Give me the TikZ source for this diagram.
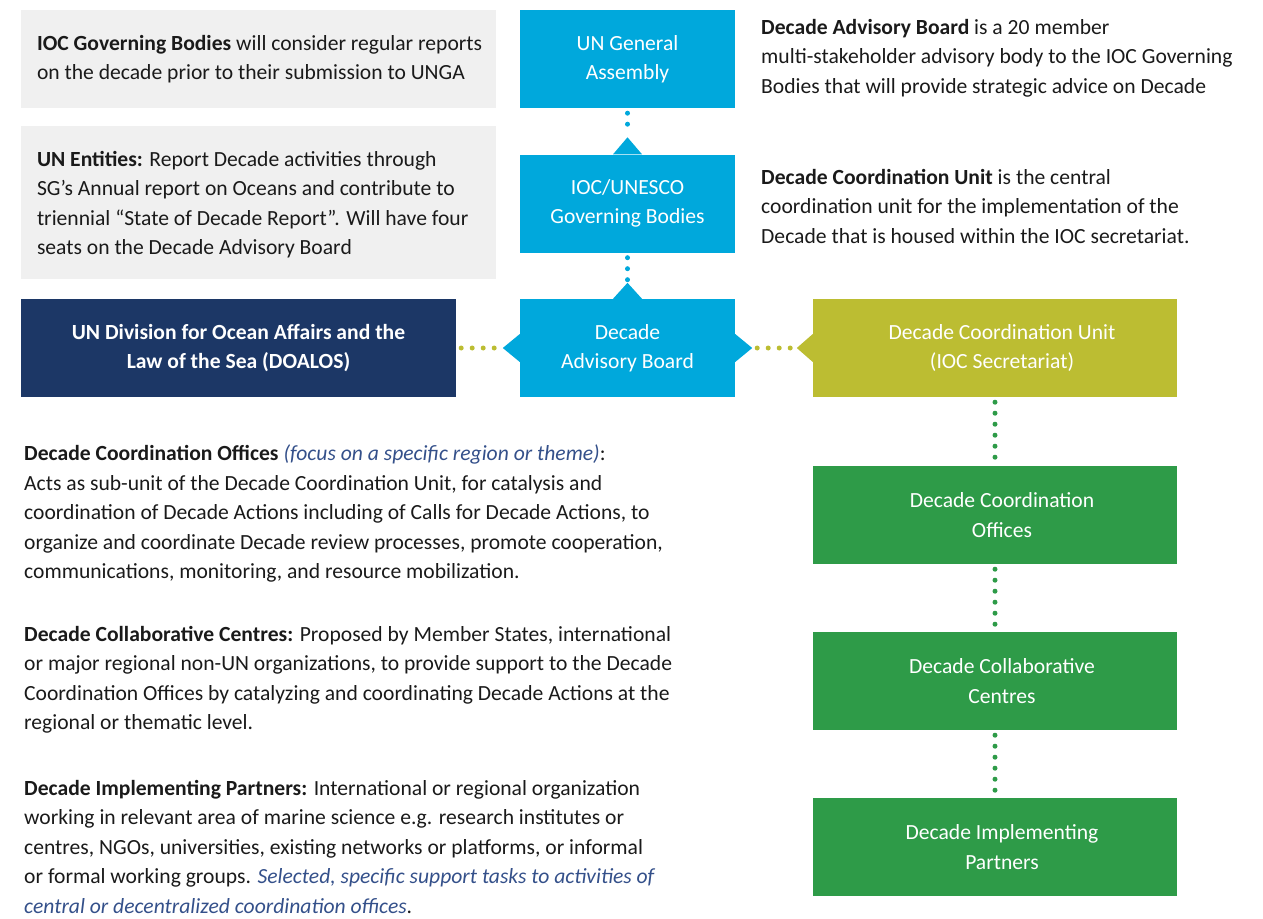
\documentclass[tikz,border=0pt]{standalone}
\usepackage{fontspec}
\setmainfont{Carlito}
\usetikzlibrary{positioning}
\definecolor{oceanblue}{RGB}{0,168,220}
\definecolor{navyblue}{RGB}{28,55,102}
\definecolor{olivegreen}{RGB}{188,189,50}
\definecolor{leafgreen}{RGB}{46,155,72}
\definecolor{panelgrey}{RGB}{240,240,240}
\definecolor{inkblack}{RGB}{26,26,26}
\definecolor{noteblue}{RGB}{52,80,138}
\newcommand{\bodyfont}{\fontsize{21.6}{29.5}\selectfont}

\begin{document}
\begin{tikzpicture}[x=1pt, y=-1pt,
  box/.style={rectangle,minimum height=98pt,inner sep=0pt,text=white,align=center,font=\bodyfont},
  blue box/.style={box,fill=oceanblue,minimum width=215pt},
  green box/.style={box,fill=leafgreen,minimum width=364pt},
  panel/.style={rectangle,fill=panelgrey,minimum width=475pt,inner sep=0pt},
  desc/.style={inner sep=0pt,align=left,text=inkblack,font=\bodyfont},
  dots/.style={line width=5pt,line cap=round,dash pattern=on 0pt off 11pt,shorten <=5pt,shorten >=3pt}]
\useasboundingbox (0,0) rectangle (1263,918);

% grey panels on the left
\node[panel,minimum height=98pt] (p1) at (258.5,59) {};
\node[desc,anchor=west] (p1 text) at ([xshift=16pt]p1.west)
  {\textbf{IOC Governing Bodies} will consider regular reports\\
   on the decade prior to their submission to UNGA};
\node[panel,minimum height=153pt] (p2) at (258.5,202.5) {};
\node[desc,anchor=west] (p2 text) at ([xshift=16pt,yshift=-2pt]p2.west)
  {\textbf{UN Entities:} Report Decade activities through\\
   SG’s Annual report on Oceans and contribute to\\
   triennial “State of Decade Report”. Will have four\\
   seats on the Decade Advisory Board};

% central column
\node[blue box] (unga) at (627.5,59) {UN General\\Assembly};
\node[blue box] (ioc) at (627.5,203.5) {IOC/UNESCO\\Governing Bodies};
\node[blue box] (dab) at (627.5,348) {Decade\\Advisory Board};
\node[box,fill=navyblue,minimum width=435pt,font=\bodyfont\bfseries] (doalos) at (238.5,348)
  {UN Division for Ocean Affairs and the\\Law of the Sea (DOALOS)};
\node[box,fill=olivegreen,minimum width=364pt] (dcu) at (995,348)
  {\hspace*{14pt}Decade Coordination Unit\\\hspace*{14pt}(IOC Secretariat)};

% pointed tips
\coordinate (ioc tip) at ([yshift=17pt]ioc.north);
\coordinate (dab tip) at ([yshift=16pt]dab.north);
\coordinate (dab left) at ([xshift=-17pt]dab.west);
\coordinate (dab right) at ([xshift=17pt]dab.east);
\coordinate (dcu tip) at ([xshift=-16pt]dcu.west);
\fill[oceanblue] (ioc tip) -- ([xshift=-14.5pt]ioc.north) -- ([xshift=14.5pt]ioc.north) -- cycle;
\fill[oceanblue] (dab tip) -- ([xshift=-14.5pt]dab.north) -- ([xshift=14.5pt]dab.north) -- cycle;
\fill[oceanblue] (dab left) -- ([yshift=14pt]dab.west) -- ([yshift=-14pt]dab.west) -- cycle;
\fill[oceanblue] (dab right) -- ([yshift=14pt]dab.east) -- ([yshift=-14pt]dab.east) -- cycle;
\fill[olivegreen] (dcu tip) -- ([yshift=14pt]dcu.west) -- ([yshift=-14pt]dcu.west) -- cycle;

% right column
\node[green box] (dco) at (995,515) {\hspace*{14pt}Decade Coordination\\\hspace*{14pt}Offices};
\node[green box] (dcc) at (995,681) {\hspace*{14pt}Decade Collaborative\\\hspace*{14pt}Centres};
\node[green box] (dip) at (995,847) {\hspace*{14pt}Decade Implementing\\\hspace*{14pt}Partners};

% dotted links
\draw[dots,oceanblue] (unga.south) -- (ioc tip);
\draw[dots,oceanblue] (ioc.south) -- (dab tip);
\draw[dots,olivegreen] (doalos.east) -- (dab left);
\draw[dots,olivegreen] (dab right) -- (dcu tip);
\draw[dots,leafgreen] (dcu.south) -- (dco.north);
\draw[dots,leafgreen] (dco.south) -- (dcc.north);
\draw[dots,leafgreen] (dcc.south) -- (dip.north);

% notes on the right
\node[desc,anchor=north west] (dab note) at (761,19)
  {\textbf{Decade Advisory Board} is a 20 member\\
   multi-stakeholder advisory body to the IOC Governing\\
   Bodies that will provide strategic advice on Decade};
\node[desc,anchor=north west] (dcu note) at (761,169)
  {\textbf{Decade Coordination Unit} is the central\\
   coordination unit for the implementation of the\\
   Decade that is housed within the IOC secretariat.};

% notes on the left
\node[desc,anchor=north west] (dco note) at (24,445)
  {\textbf{Decade Coordination Offices} {\color{noteblue}\itshape(focus on a specific region or theme)}:\\
   Acts as sub-unit of the Decade Coordination Unit, for catalysis and\\
   coordination of Decade Actions including of Calls for Decade Actions, to\\
   organize and coordinate Decade review processes, promote cooperation,\\
   communications, monitoring, and resource mobilization.};
\node[desc,anchor=north west] (dcc note) at (24,626)
  {\textbf{Decade Collaborative Centres:} Proposed by Member States, international\\
   or major regional non-UN organizations, to provide support to the Decade\\
   Coordination Offices by catalyzing and coordinating Decade Actions at the\\
   regional or thematic level.};
\node[desc,anchor=north west] (dip note) at (24,780)
  {\textbf{Decade Implementing Partners:} International or regional organization\\
   working in relevant area of marine science e.g. research institutes or\\
   centres, NGOs, universities, existing networks or platforms, or informal\\
   or formal working groups. {\color{noteblue}\itshape Selected, specific support tasks to activities of}\\
   {\color{noteblue}\itshape central or decentralized coordination offices}.};
\end{tikzpicture}
\end{document}
